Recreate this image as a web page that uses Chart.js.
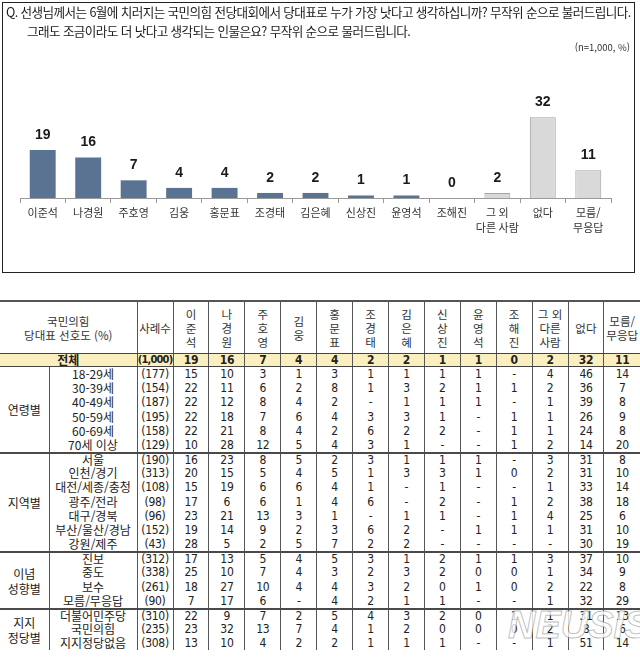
<!DOCTYPE html>
<html lang="ko">
<head>
<meta charset="utf-8">
<title>국민의힘 당대표 선호도</title>
<script src="https://cdn.jsdelivr.net/npm/chart.js"></script>
<style>
  html, body { margin: 0; padding: 0; background: #fff; }
  body { width: 640px; height: 658px; position: relative; overflow: hidden;
         font-family: "Noto Sans CJK KR", "Noto Sans", sans-serif; color: #222; }
  #frame { position: absolute; left: 2px; top: 2px; width: 631px; height: 269px; border: 1.5px solid #222; }
  #question { position: absolute; left: 6px; top: 2px; font-size: 12.6px; line-height: 19px;
              letter-spacing: -0.6px; white-space: nowrap; color: #1a1a1a; }
  #question .l2 { padding-left: 21px; }
  #unit { position: absolute; right: 10px; top: 40px; font-size: 9.5px; color: #333; }
  #chart { position: absolute; left: 0; top: 0; }
  table { position: absolute; left: 0; top: 300px; width: 640px; border-collapse: collapse;
          table-layout: fixed; border-top: 2px solid #555; }
  th, td { padding: 0; text-align: center; vertical-align: middle; white-space: nowrap; overflow: hidden; }
  th { font-weight: normal; font-size: 11.5px; line-height: 14px; color: #333; border-left: 1px solid #555;
       border-bottom: 1px solid #444; }
  th.first { border-left: none; }
  td { font-size: 12px; line-height: 12px; color: #222; }
  td.num { font-family: "Liberation Sans Narrow", "DejaVu Sans Condensed", "Liberation Sans", sans-serif;
           border-left: 1px solid #555; letter-spacing: -0.3px; }
  td.lab { border-left: 1px solid #555; }
  td.grp { text-align: center; line-height: 15px; }
  tr.total td { background: #fcefbf; font-weight: bold; border-bottom: 1px solid #444; height: 12px; }
  tr.total td.lab { border-left: none; }
  tr.total td.base { font-size: 11px; letter-spacing: -0.8px; overflow: visible; }
  tr.row td { height: 14.2px; }
  tr.sep td { border-top: 2px solid #4a4a4a; }
  tr.sep td.lab, tr.sep td.num { height: 11.6px; }
  tr.head th { height: 51px; }
  #mark { position: absolute; left: 508px; top: 604px; font: italic bold 38px "Liberation Sans", Arial, sans-serif;
          color: rgba(255,255,255,0.8); -webkit-text-stroke: 1px rgba(110,110,110,0.45); }
</style>
</head>
<body>
<canvas id="chart" width="640" height="274"></canvas>
<div id="frame"></div>
<div id="question">Q. 선생님께서는 6월에 치러지는 국민의힘 전당대회에서 당대표로 누가 가장 낫다고 생각하십니까? 무작위 순으로 불러드립니다.<br><span class="l2">그래도 조금이라도 더 낫다고 생각되는 인물은요? 무작위 순으로 물러드립니다.</span></div>
<div id="unit">(n=1,000, %)</div>
<table id="tbl"></table>
<div id="mark">NEUSIS</div>
<script>
// candidates and overall result (%)
const candidates = ['이준석', '나경원', '주호영', '김웅', '홍문표', '조경태', '김은혜', '신상진', '윤영석', '조해진', '그 외 다른 사람', '없다', '모름/무응답'];
const tickLabels = ['이준석', '나경원', '주호영', '김웅', '홍문표', '조경태', '김은혜', '신상진', '윤영석', '조해진', ['그 외', '다른 사람'], '없다', ['모름/', '무응답']];
const headerLabels = [['이', '준', '석'], ['나', '경', '원'], ['주', '호', '영'], ['김', '웅'], ['홍', '문', '표'], ['조', '경', '태'], ['김', '은', '혜'], ['신', '상', '진'], ['윤', '영', '석'], ['조', '해', '진'], ['그 외', '다른', '사람'], ['없다'], ['모름/', '무응답']];
const total = [19, 16, 7, 4, 4, 2, 2, 1, 1, 0, 2, 32, 11];
const totalBase = '1,000';

// by age
const ageLabels = ['18-29세', '30-39세', '40-49세', '50-59세', '60-69세', '70세 이상'];
const ageBase = [177, 154, 187, 195, 158, 129];
const ageValues = [
  [15, 10, 3, 1, 3, 1, 1, 1, 1, null, 4, 46, 14],
  [22, 11, 6, 2, 8, 1, 3, 2, 1, 1, 2, 36, 7],
  [22, 12, 8, 4, 2, null, 1, 1, 1, null, 1, 39, 8],
  [22, 18, 7, 6, 4, 3, 3, 1, null, 1, 1, 26, 9],
  [22, 21, 8, 4, 2, 6, 2, 2, null, 1, 1, 24, 8],
  [10, 28, 12, 5, 4, 3, 1, null, null, 1, 2, 14, 20]
];

// by region
const regionLabels = ['서울', '인천/경기', '대전/세종/충청', '광주/전라', '대구/경북', '부산/울산/경남', '강원/제주'];
const regionBase = [190, 313, 108, 98, 96, 152, 43];
const regionValues = [
  [16, 23, 8, 5, 2, 3, 1, 1, 1, null, 3, 31, 8],
  [20, 15, 5, 4, 5, 1, 3, 3, 1, 0, 2, 31, 10],
  [15, 19, 6, 6, 4, 1, null, 1, null, null, 1, 33, 14],
  [17, 6, 6, 1, 4, 6, null, 2, null, 1, 2, 38, 18],
  [23, 21, 13, 3, 1, null, 1, 1, null, 1, 4, 25, 6],
  [19, 14, 9, 2, 3, 6, 2, null, 1, 1, 1, 31, 10],
  [28, 5, 2, 5, 7, 2, 2, null, null, null, null, 30, 19]
];

// by ideology
const ideoLabels = ['진보', '중도', '보수', '모름/무응답'];
const ideoBase = [312, 338, 261, 90];
const ideoValues = [
  [17, 13, 5, 4, 5, 3, 1, 2, 1, 1, 3, 37, 10],
  [25, 10, 7, 4, 3, 2, 3, 2, 0, 0, 1, 34, 9],
  [18, 27, 10, 4, 4, 3, 2, 0, 1, 0, 2, 22, 8],
  [7, 17, 6, null, 4, 2, 1, 1, null, null, 1, 32, 29]
];

// by supported party
const partyLabels = ['더불어민주당', '국민의힘', '지지정당없음'];
const partyBase = [310, 235, 308];
const partyValues = [
  [22, 9, 7, 2, 5, 4, 3, 2, 0, 1, 1, 31, 13],
  [23, 32, 13, 7, 4, 1, 2, 0, 0, 0, 2, 8, 6],
  [13, 10, 4, 2, 2, 1, 1, 1, null, null, 1, 51, 14]
];

const NAMED = 10; // first 10 are named candidates (navy), rest grey

// value labels above bars
const valueLabels = {
  id: 'valueLabels',
  afterDatasetsDraw(chart) {
    const ctx = chart.ctx;
    const ds = chart.data.datasets[0];
    ctx.save();
    ctx.font = 'bold 14px "Liberation Sans Narrow", "Liberation Sans", Arial, sans-serif';
    ctx.fillStyle = '#1a1a1a';
    ctx.textAlign = 'center';
    ctx.textBaseline = 'middle';
    chart.getDatasetMeta(0).data.forEach((bar, i) => {
      ctx.fillText(String(ds.data[i]), bar.x, bar.y - 15);
    });
    ctx.restore();
  }
};

new Chart(document.getElementById('chart'), {
  type: 'bar',
  data: {
    labels: tickLabels,
    datasets: [{
      data: total,
      backgroundColor: total.map((v, i) => i < NAMED ? '#5b7392' : '#d9d9d9'),
      borderColor: total.map((v, i) => i < NAMED ? '#5b7392' : '#a3a3a3'),
      borderWidth: total.map((v, i) => i < NAMED ? 0 : 1),
      borderSkipped: 'bottom',
      categoryPercentage: 1,
      barPercentage: 0.57
    }]
  },
  options: {
    responsive: false,
    animation: false,
    devicePixelRatio: 1,
    layout: { padding: { left: 20, right: 29, top: 97, bottom: 16 } },
    plugins: { legend: { display: false }, tooltip: { enabled: false } },
    scales: {
      x: {
        grid: { offset: true, drawOnChartArea: false, tickLength: 5, color: '#9a9a9a' },
        border: { color: '#9a9a9a' },
        ticks: { color: '#333', padding: 3, maxRotation: 0, autoSkip: false,
                 font: { family: '"Noto Sans CJK KR"', size: 11, lineHeight: 1.3 } },
        afterFit(axis) { axis.height = 60; }
      },
      y: { display: false, min: 0, max: 40 }
    }
  },
  plugins: [valueLabels]
});

// table
const tbl = document.getElementById('tbl');
const fmt = v => v === null ? '-' : String(v);
let html = '<colgroup><col style="width:49px"><col style="width:88px"><col style="width:36px">';
candidates.forEach(() => { html += '<col style="width:35.92px">'; });
html += '</colgroup>';
html += '<tr class="head"><th class="first" colspan="2">국민의힘<br>당대표 선호도 (%)</th><th>사례수</th>';
headerLabels.forEach(lines => { html += '<th>' + lines.join('<br>') + '</th>'; });
html += '</tr>';
html += '<tr class="total"><td colspan="2" class="lab">전체</td><td class="num base">(' + totalBase + ')</td>';
total.forEach(v => { html += '<td class="num">' + fmt(v) + '</td>'; });
html += '</tr>';

function addBlock(group, labels, bases, values, first) {
  labels.forEach((lab, r) => {
    html += '<tr class="row' + (r === 0 && !first ? ' sep' : '') + '">';
    if (r === 0) html += '<td class="grp" rowspan="' + labels.length + '">' + group + '</td>';
    html += '<td class="lab">' + lab + '</td><td class="num">(' + bases[r] + ')</td>';
    values[r].forEach(v => { html += '<td class="num">' + fmt(v) + '</td>'; });
    html += '</tr>';
  });
}
addBlock('연령별', ageLabels, ageBase, ageValues, true);
addBlock('지역별', regionLabels, regionBase, regionValues);
addBlock('이념<br>성향별', ideoLabels, ideoBase, ideoValues);
addBlock('지지<br>정당별', partyLabels, partyBase, partyValues);
tbl.innerHTML = html;
</script>
</body>
</html>
